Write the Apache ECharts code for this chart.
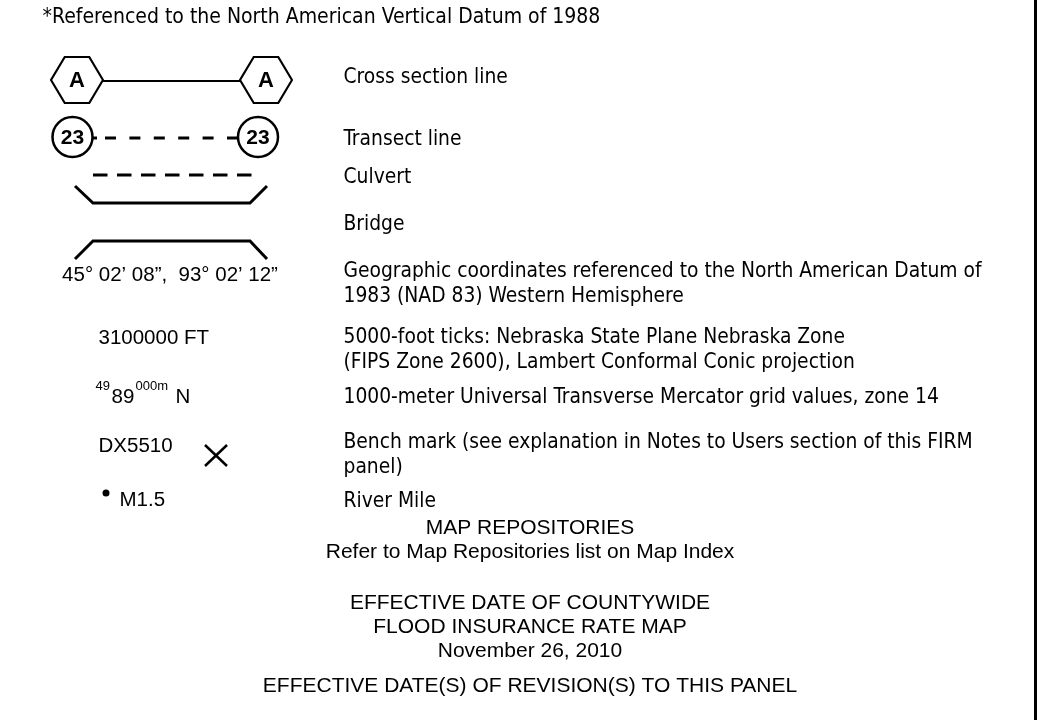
<!DOCTYPE html>
<html><head><meta charset="utf-8">
<script src="https://cdn.jsdelivr.net/npm/echarts@6/dist/echarts.min.js"></script>
<style>html,body{margin:0;padding:0;background:#fff}#c{width:1038px;height:720px}</style>
</head><body><div id="c"></div>
<script>
// ---- content ----
const headerText = ["*Referenced to the North American Vertical Datum of 1988"];
const descriptions = [
  "Cross section line",
  "Transect line",
  "Culvert",
  "Bridge",
  "Geographic coordinates referenced to the North American Datum of",
  "1983 (NAD 83) Western Hemisphere",
  "5000-foot ticks: Nebraska State Plane Nebraska Zone",
  "(FIPS Zone 2600), Lambert Conformal Conic projection",
  "1000-meter Universal Transverse Mercator grid values, zone 14",
  "Bench mark (see explanation in Notes to Users section of this FIRM",
  "panel)",
  "River Mile"
];
const crossSectionLetters = ["A", "A"];
const transectNumbers = ["23", "23"];
const coordLabel = ["45° 02’ 08”,  93° 02’ 12”"];
const sampleLabels = ["3100000 FT", "DX5510", "M1.5"];
const utmBig = ["89", "N"];
const utmSup = ["49", "000m"];
const footerText = [
  "MAP REPOSITORIES",
  "Refer to Map Repositories list on Map Index",
  "EFFECTIVE DATE OF COUNTYWIDE",
  "FLOOD INSURANCE RATE MAP",
  "November 26, 2010",
  "EFFECTIVE DATE(S) OF REVISION(S) TO THIS PANEL"
];

// ---- layout (page coordinates on a hidden 1038 x 720 axis pair) ----
const descX = 343;
const descY = [78, 140, 178, 225, 272, 297, 338, 363, 398, 443, 468, 502];
const footerX = 530;
const footerY = [528, 552, 603, 627, 651, 686];

const SANS = "'DejaVu Sans Condensed', 'DejaVu Sans', sans-serif";
const ARIAL = "'Liberation Sans', Arial, sans-serif";
const INK = '#000';

function textSeries(name, points, texts, fontFamily, fontSize, position, extra) {
  return {
    type: 'scatter', name, silent: true, z: 5,
    symbolSize: 1, itemStyle: { color: 'rgba(0,0,0,0)', opacity: 1 },
    label: Object.assign({
      show: true, position, distance: 0, color: INK, opacity: 1,
      fontFamily, fontSize, formatter: p => p.name
    }, extra || {}),
    data: texts.map((t, i) => ({ name: t, value: points[i] }))
  };
}
function lineSeries(name, pts, width, dash, offset) {
  return {
    type: 'line', name, silent: true, symbol: 'none', z: 2,
    lineStyle: Object.assign({ color: INK, width, opacity: 1, cap: 'butt', join: 'miter' },
      dash ? { type: dash, dashOffset: offset || 0 } : {}),
    data: pts
  };
}

const hexPath = 'path://M0,23 L14,0 L39,0 L53,23 L39,46 L14,46 Z';

const option = {
  animation: false,
  backgroundColor: '#ffffff',
  grid: { left: 0, right: 0, top: 0, bottom: 0 },
  xAxis: { type: 'value', min: 0, max: 1038, show: false },
  yAxis: { type: 'value', min: 0, max: 720, inverse: true, show: false },
  series: [
    // symbols on the left
    lineSeries('crossSection', [[103, 81], [240, 81]], 2),
    lineSeries('transect', [[93, 138], [238, 138]], 3, [11, 13.4], 12.4),
    lineSeries('transectStub', [[92, 138], [97, 138]], 3),
    lineSeries('culvertDash', [[93, 175], [252, 175]], 3, [14.5, 9.5], 0),
    lineSeries('culvertEnds', [[75, 186], [93, 203], [250, 203], [267, 186]], 3),
    lineSeries('bridgeEnds', [[75, 259], [93, 241], [250, 241], [267, 259]], 3),
    lineSeries('benchA', [[205, 445], [227, 466]], 2.5),
    lineSeries('benchB', [[227, 445], [205, 466]], 2.5),
    lineSeries('border', [[1035.5, 0], [1035.5, 720]], 3),
    {
      type: 'scatter', name: 'hexagons', silent: true, z: 4,
      symbol: hexPath, symbolSize: [52, 46], symbolKeepAspect: false,
      itemStyle: { color: '#fff', borderColor: INK, borderWidth: 2, opacity: 1 },
      label: { show: true, position: 'inside', color: INK, fontFamily: ARIAL,
        fontWeight: 'bold', fontSize: 22, formatter: p => p.name, offset: [0, 1] },
      data: crossSectionLetters.map((t, i) => ({ name: t, value: [[77, 80], [266, 80]][i] }))
    },
    {
      type: 'scatter', name: 'circles', silent: true, z: 4,
      symbol: 'circle', symbolSize: 40,
      itemStyle: { color: '#fff', borderColor: INK, borderWidth: 2.5, opacity: 1 },
      label: { show: true, position: 'inside', color: INK, fontFamily: ARIAL,
        fontWeight: 'bold', fontSize: 21, formatter: p => p.name, offset: [0, 1] },
      data: transectNumbers.map((t, i) => ({ name: t, value: [[72.5, 137], [258, 137]][i] }))
    },
    {
      type: 'scatter', name: 'riverMileDot', silent: true, z: 4,
      symbol: 'circle', symbolSize: 7, itemStyle: { color: INK, opacity: 1 },
      data: [[106, 493]]
    },
    // texts
    textSeries('header', [[42, 18]], headerText, SANS, 21, 'right'),
    textSeries('descriptions', descY.map(y => [descX, y]), descriptions, SANS, 20.8, 'right'),
    textSeries('coord', [[170, 275]], coordLabel, ARIAL, 20.5, 'inside'),
    textSeries('samples', [[98, 338], [98, 446], [119, 500]], sampleLabels, ARIAL, 20.5, 'right'),
    textSeries('utmBig', [[111, 397], [175, 397]], utmBig, ARIAL, 20.5, 'right'),
    textSeries('utmSup', [[95, 386], [135, 386]], utmSup, ARIAL, 13, 'right'),
    textSeries('footer', footerY.map(y => [footerX, y]), footerText, ARIAL, 21, 'inside')
  ]
};

const chart = echarts.init(document.getElementById('c'), null, { renderer: 'canvas' });
chart.setOption(option);
</script>
</body></html>
